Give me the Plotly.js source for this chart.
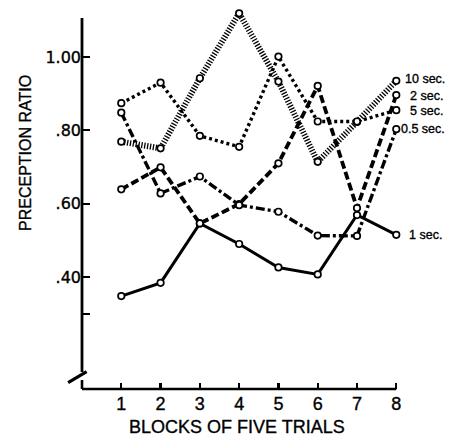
<!DOCTYPE html>
<html>
<head>
<meta charset="utf-8">
<script src="https://cdn.plot.ly/plotly-3.0.1.min.js"></script>
<style>
html,body{margin:0;padding:0;background:#fff;}
#chart{width:451px;height:437px;}
#chart svg text{stroke:#000;stroke-width:0.35px;}
</style>
</head>
<body>
<div id="chart"></div>
<script>
// ---- data ----
const blocks = [1, 2, 3, 4, 5, 6, 7, 8];
const sec10 = [0.769, 0.751, 0.942, 1.119, 0.933, 0.714, 0.823, 0.935];
const sec2  = [0.639, 0.699, 0.546, 0.599, 0.710, 0.921, 0.588, 0.896];
const sec5  = [0.874, 0.930, 0.785, 0.755, 1.001, 0.824, 0.824, 0.855];
const sec05 = [0.848, 0.628, 0.674, 0.596, 0.578, 0.513, 0.512, 0.803];
const sec1  = [0.348, 0.384, 0.546, 0.490, 0.426, 0.407, 0.569, 0.515];
const seriesNames = ["10 sec.", "2 sec.", "5 sec.", "0.5 sec.", "1 sec."];
const yTickVals = [0.30, 0.40, 0.60, 0.80, 1.00];
const yTickText = ["", ".40", ".60", ".80", "1.00"];
const xTickText = ["1", "2", "3", "4", "5", "6", "7", "8"];

// ---- styles ----
const allSeries = [sec10, sec2, sec5, sec05, sec1];
const lineStyles = [
  {width: 6, dash: "1.3px,1.6px"},
  {width: 3.8, dash: "8px,3.5px"},
  {width: 3.4, dash: "3px,3px"},
  {width: 3.4, dash: "9px,3px,3px,3px"},
  {width: 3, dash: "solid"}
];
const labelShift = [8, 13, 13, 4, 12];
const labelYShift = [2, -1, -1, 0, 0];
const FONT = "Liberation Sans, Arial, sans-serif";
const WIDE = "DejaVu Sans, sans-serif";

const traces = allSeries.map((vals, i) => ({
  x: blocks, y: vals, type: "scatter", mode: "lines+markers",
  name: seriesNames[i], cliponaxis: false,
  line: {color: "#000", width: lineStyles[i].width, dash: lineStyles[i].dash},
  marker: {symbol: "circle", size: 6.5, color: "#fff", line: {color: "#000", width: 1.7}}
}));

const xMax = 8.4, yMin = 0.0946, yMax = 1.139;
const axisTop = 1.106, breakHi = 0.141, breakLo = 0.119;

const labelAnn = allSeries.map((vals, i) => ({
  x: blocks[blocks.length - 1], y: vals[vals.length - 1], xref: "x", yref: "y",
  text: seriesNames[i], showarrow: false, xanchor: "left", yanchor: "middle",
  xshift: labelShift[i], yshift: labelYShift[i], borderpad: 0,
  font: {family: FONT, size: 12.5, color: "#000"}
}));

const layout = {
  width: 451, height: 437,
  margin: {l: 82, r: 39, t: 6, b: 48},
  paper_bgcolor: "#fff", plot_bgcolor: "#fff",
  showlegend: false,
  font: {family: FONT, color: "#000"},
  xaxis: {
    range: [0, xMax], showgrid: false, zeroline: false, showline: false,
    tickvals: blocks, ticktext: xTickText, ticks: "inside", ticklen: 6, tickwidth: 2.2,
    tickcolor: "#000", ticklabelstandoff: 2,
    tickfont: {family: FONT, size: 18, color: "#000"}
  },
  yaxis: {
    range: [yMin, yMax], showgrid: false, zeroline: false, showline: false,
    tickvals: yTickVals, ticktext: yTickText, ticks: "inside", ticklen: 8, tickwidth: 2.2,
    tickcolor: "#000", tickfont: {family: WIDE, size: 16, color: "#000"}
  },
  shapes: [
    {type: "line", xref: "paper", yref: "y", x0: 0, x1: 0, y0: breakHi, y1: axisTop, line: {color: "#000", width: 2.8}},
    {type: "line", xref: "paper", yref: "y", x0: 0, x1: 0, y0: yMin, y1: breakLo, line: {color: "#000", width: 2.6}},
    {type: "line", xref: "paper", yref: "y", x0: -0.042, x1: 0.014, y0: 0.112, y1: 0.142, line: {color: "#000", width: 3.2}},
    {type: "line", xref: "x", yref: "paper", x0: 0, x1: 8, y0: 0, y1: 0, line: {color: "#000", width: 2.4}}
  ],
  annotations: labelAnn.concat([
    {xref: "paper", yref: "paper", x: 0.471, y: -0.0992, xanchor: "center", yanchor: "middle",
     text: "BLOCKS OF FIVE TRIALS", showarrow: false, font: {family: FONT, size: 18, color: "#000"}},
    {xref: "paper", yref: "paper", x: -0.173, y: 0.616, xanchor: "center", yanchor: "middle",
     textangle: -90, text: "PRECEPTION RATIO", showarrow: false, font: {family: FONT, size: 16, color: "#000"}}
  ])
};

Plotly.newPlot("chart", traces, layout, {displayModeBar: false, staticPlot: true});
</script>
</body>
</html>
